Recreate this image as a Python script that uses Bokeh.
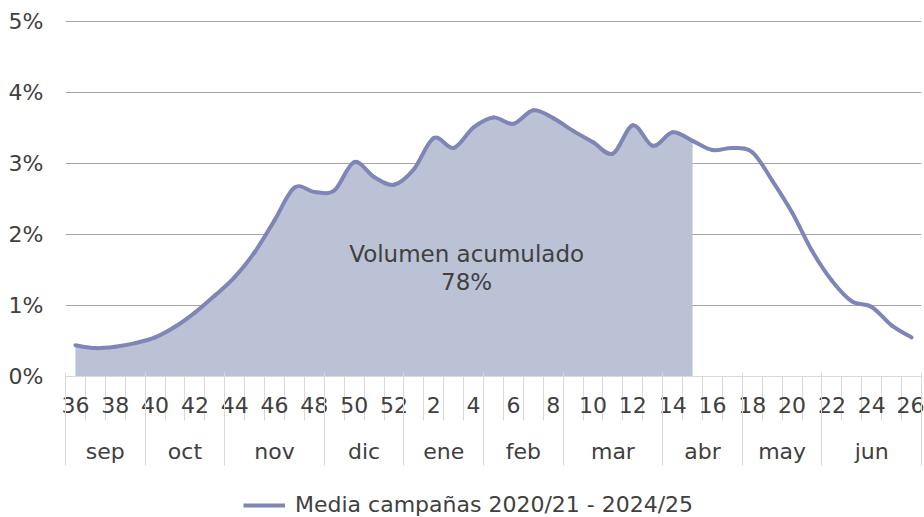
import numpy as np
from bokeh.plotting import figure
from bokeh.layouts import column
from bokeh.models import (Range1d, LinearAxis, FixedTicker, PrintfTickFormatter,
                          Label, Legend, LegendItem, ColumnDataSource)
from bokeh.embed import file_html
from bokeh.resources import INLINE

# ---------------- data ----------------
weeks = ["36", "37", "38", "39", "40", "41", "42", "43", "44", "45", "46", "47",
         "48", "49", "50", "51", "52", "1", "2", "3", "4", "5", "6", "7", "8",
         "9", "10", "11", "12", "13", "14", "15", "16", "17", "18", "19", "20",
         "21", "22", "23", "24", "25", "26"]
values = [0.44, 0.40, 0.42, 0.47, 0.55, 0.70, 0.90, 1.14, 1.40, 1.75, 2.20, 2.66,
          2.60, 2.62, 3.02, 2.81, 2.70, 2.92, 3.36, 3.22, 3.51, 3.65, 3.56, 3.75,
          3.64, 3.46, 3.30, 3.14, 3.54, 3.25, 3.44, 3.32, 3.19, 3.22, 3.16, 2.76,
          2.31, 1.77, 1.35, 1.06, 0.98, 0.72, 0.55]
months = ["sep", "oct", "nov", "dic", "ene", "feb", "mar", "abr", "may", "jun"]
month_weeks = [4, 4, 5, 4, 4, 4, 5, 4, 4, 5]
y_ticks = [0, 1, 2, 3, 4, 5]
fill_last_week = "15"
annotation_text = "Volumen acumulado\n78%"
series_name = "Media campañas 2020/21 - 2024/25"

# ---------------- styles ----------------
FONT = "DejaVu Sans"
TEXT = "#404040"
LINE = "#7F86B7"
FILL = "#BCC2D6"
GRID = "#A6A6A6"
LIGHT = "#D9D9D9"
FS = "22px"

n = len(weeks)
x = np.arange(n)
v = np.array(values)
n_fill = weeks.index(fill_last_week) + 1

p = figure(width=924, height=466, x_range=Range1d(-0.5, n - 0.5), y_range=Range1d(0, 5.015),
           output_backend="svg", toolbar_location=None, x_axis_location=None,
           min_border_left=65, min_border_right=3, min_border_top=20, min_border_bottom=90)
p.outline_line_color = None
p.xgrid.visible = False
p.ygrid.ticker = FixedTicker(ticks=y_ticks[1:])
p.ygrid.grid_line_color = GRID
p.ygrid.grid_line_width = 1

ya = p.yaxis[0]
ya.ticker = FixedTicker(ticks=y_ticks)
ya.formatter = PrintfTickFormatter(format="%d%%")
ya.axis_line_color = None
ya.major_tick_line_color = None
ya.minor_tick_line_color = None
ya.major_label_standoff = 16
ya.major_label_text_font = FONT
ya.major_label_text_font_size = FS
ya.major_label_text_color = TEXT

# area (accumulated volume)
p.varea(x=x[:n_fill], y1=0, y2=v[:n_fill], fill_color=FILL, fill_alpha=1)

# smoothed line via bezier segments (Catmull-Rom control points)
vp = np.concatenate([[v[0]], v, [v[-1]]])
xp = np.concatenate([[x[0]], x, [x[-1]]]).astype(float)
i = np.arange(n - 1)
src = ColumnDataSource(dict(
    x0=x[:-1].astype(float), y0=v[:-1], x1=x[1:].astype(float), y1=v[1:],
    cx0=x[:-1] + (xp[i + 2] - xp[i]) / 6, cy0=v[:-1] + (vp[i + 2] - vp[i]) / 6,
    cx1=x[1:] - (xp[i + 3] - xp[i + 1]) / 6, cy1=v[1:] - (vp[i + 3] - vp[i + 1]) / 6,
))
p.bezier(x0="x0", y0="y0", x1="x1", y1="y1", cx0="cx0", cy0="cy0", cx1="cx1", cy1="cy1",
         source=src, line_color=LINE, line_width=4, line_cap="round")

# week axis
ax1 = LinearAxis(ticker=FixedTicker(ticks=list(range(0, n, 2)),
                                    minor_ticks=[k - 0.5 for k in range(n + 1)]),
                 major_label_overrides={k: weeks[k] for k in range(0, n, 2)})
ax1.axis_line_color = LIGHT
ax1.major_tick_in = 0
ax1.major_tick_out = 0
ax1.minor_tick_in = 0
ax1.minor_tick_out = 44
ax1.minor_tick_line_color = LIGHT
ax1.major_label_standoff = -24
ax1.major_label_text_font = FONT
ax1.major_label_text_font_size = FS
ax1.major_label_text_color = TEXT
p.add_layout(ax1, "below")

# month axis
starts = np.concatenate([[0], np.cumsum(month_weeks)[:-1]])
centers = [float(s + m / 2 - 0.5) for s, m in zip(starts, month_weeks)]
bounds = [float(s - 0.5) for s in starts] + [n - 0.5]
ax2 = LinearAxis(ticker=FixedTicker(ticks=centers, minor_ticks=bounds),
                 major_label_overrides={c: m for c, m in zip(centers, months)})
ax2.axis_line_color = None
ax2.major_tick_in = 0
ax2.major_tick_out = 0
ax2.minor_tick_in = 43
ax2.minor_tick_out = 50
ax2.minor_tick_line_color = LIGHT
ax2.major_label_standoff = -27
ax2.major_label_text_font = FONT
ax2.major_label_text_font_size = FS
ax2.major_label_text_color = TEXT
p.add_layout(ax2, "below")

# annotation
p.add_layout(Label(x=19.65, y=1.53, text=annotation_text, text_align="center",
                   text_baseline="middle", text_font=FONT, text_font_size="23px",
                   text_color=TEXT, text_line_height=1.05))

# legend strip (key renderer carries the series but is hidden; only its legend entry shows)
pl = figure(width=924, height=51, x_range=Range1d(-0.5, n - 0.5), y_range=Range1d(0, 5),
            output_backend="svg", toolbar_location=None, min_border=0,
            x_axis_location=None, y_axis_location=None)
pl.outline_line_color = None
pl.grid.visible = False
key = pl.line(x=x, y=v, line_color=LINE, line_width=4, visible=False)
legend = Legend(items=[LegendItem(label=series_name, renderers=[key])],
                location=(178, 0), orientation="horizontal",
                border_line_color=None, background_fill_alpha=0,
                label_text_font=FONT, label_text_font_size=FS, label_text_color=TEXT,
                glyph_width=42, glyph_height=20, label_standoff=10, padding=0, margin=0)
pl.add_layout(legend, "center")

open("out.html", "w").write(file_html(column(p, pl, spacing=0), INLINE))
